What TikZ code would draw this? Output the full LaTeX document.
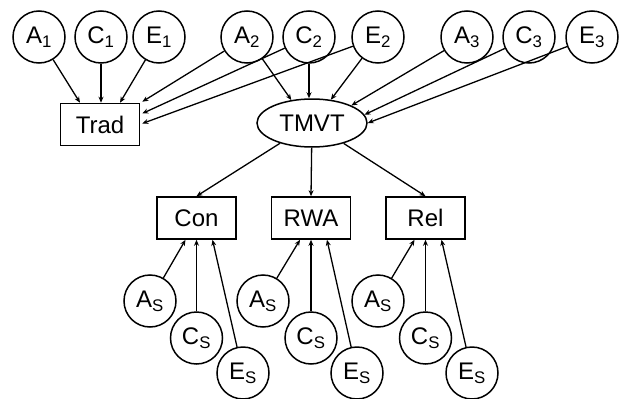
\documentclass[tikz,border=0pt]{standalone}
\usepackage{fontspec}
\setmainfont{Liberation Sans}
\usetikzlibrary{arrows.meta,calc,shapes.geometric}
\tikzset{
  lat/.style={draw,circle,minimum size=52pt,inner sep=0pt,line width=1.5pt},
  obs/.style={draw,rectangle,minimum width=79pt,minimum height=42pt,inner sep=0pt,line width=1.6pt},
  fac/.style={draw,ellipse,minimum width=110pt,minimum height=48pt,inner sep=0pt,line width=1.5pt},
  arr/.style={line width=1.3pt,-{Stealth[length=6pt,width=5pt]}},
}
\begin{document}
\begin{tikzpicture}[x=1pt,y=-1pt,font=\fontsize{24}{28}\selectfont]
\useasboundingbox (0,0) rectangle (627,399);
% top latent factors
\node[lat] (A1) at (39,37) {A\textsubscript{1}};
\node[lat] (C1) at (101,37) {C\textsubscript{1}};
\node[lat] (E1) at (159,37) {E\textsubscript{1}};
\node[lat] (A2) at (247,37) {A\textsubscript{2}};
\node[lat] (C2) at (309,37) {C\textsubscript{2}};
\node[lat] (E2) at (378,37) {E\textsubscript{2}};
\node[lat] (A3) at (467,37) {A\textsubscript{3}};
\node[lat] (C3) at (529,37) {C\textsubscript{3}};
\node[lat] (E3) at (592,37) {E\textsubscript{3}};
% Trad and TMVT
\node[obs] (Trad) at (100,124.5) {Trad};
\node[fac] (TMVT) at (312,123) {TMVT};
% indicators
\node[obs] (Con) at (196.5,218) {Con};
\node[obs] (RWA) at (311,218) {RWA};
\node[obs] (Rel) at (425.5,218) {Rel};
% specific factors
\node[lat] (AS1) at (150,301) {A\textsubscript{S}};
\node[lat] (CS1) at (196.5,338) {C\textsubscript{S}};
\node[lat] (ES1) at (243,373) {E\textsubscript{S}};
\node[lat] (AS2) at (263,301) {A\textsubscript{S}};
\node[lat] (CS2) at (311,338) {C\textsubscript{S}};
\node[lat] (ES2) at (357,373) {E\textsubscript{S}};
\node[lat] (AS3) at (378,301) {A\textsubscript{S}};
\node[lat] (CS3) at (425.5,338) {C\textsubscript{S}};
\node[lat] (ES3) at (472,373) {E\textsubscript{S}};
% arrows to Trad
\draw[arr] (A1) -- ($(Trad.north)+(-20,0)$);
\draw[arr] (C1) -- (C1 |- Trad.north);
\draw[arr] (E1) -- ($(Trad.north)+(20,0)$);
\draw[arr] (A2) -- ($(Trad.north east)+(2,-1)$);
\draw[arr] (C2) -- ($(Trad.east)+(2,-11)$);
\draw[arr] (E2) -- ($(Trad.east)+(2,-1)$);
% arrows to TMVT
\draw[arr] (A2) -- (TMVT.132);
\draw[arr] (C2) -- (C2 |- TMVT.north);
\draw[arr] (E2) -- (TMVT.51);
\draw[arr] (A3) -- (TMVT.24);
\draw[arr] (C3) -- (TMVT.9);
\draw[arr] (E3) -- (TMVT.east);
% TMVT to indicators
\draw[arr] (TMVT) -- (Con.north);
\draw[arr] (TMVT) -- (RWA.north);
\draw[arr] (TMVT) -- (Rel.north);
% specific to indicators
\foreach \i/\b in {1/Con,2/RWA,3/Rel}{
  \draw[arr] (AS\i) -- ($(\b.south)+(-11,0)$);
  \draw[arr] (CS\i) -- (CS\i |- \b.south);
  \draw[arr] (ES\i) -- ($(\b.south)+(16,0)$);
}
\end{tikzpicture}
\end{document}
